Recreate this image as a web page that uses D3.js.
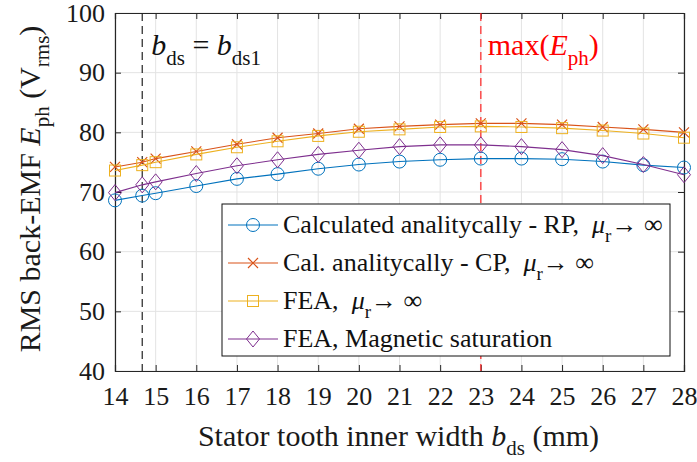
<!DOCTYPE html>
<html>
<head>
<meta charset="utf-8">
<script src="https://cdn.jsdelivr.net/npm/d3@7"></script>
<style>
  html, body { margin: 0; padding: 0; background: #fff; }
  svg { display: block; font-family: "Liberation Serif", "Times New Roman", serif; }
  text { white-space: pre; }
</style>
</head>
<body>
<svg id="chart" width="697" height="462"></svg>
<script>
// Stator tooth inner width b_ds (mm)
const widths = [14, 14.67, 15, 16, 17, 18, 19, 20, 21, 22, 23, 24, 25, 26, 27, 28];
// RMS back-EMF per phase (Vrms)
const calcRP   = [68.6, 69.4, 69.8, 71.0, 72.2, 73.0, 73.9, 74.6, 75.1, 75.4, 75.6, 75.6, 75.5, 75.1, 74.5, 74.1];
const calcCP   = [74.2, 75.0, 75.6, 76.8, 78.0, 79.1, 79.8, 80.6, 81.0, 81.3, 81.5, 81.5, 81.3, 80.9, 80.5, 80.0];
const feaInf   = [73.6, 74.5, 75.0, 76.3, 77.5, 78.5, 79.4, 80.1, 80.5, 80.9, 81.0, 80.9, 80.7, 80.3, 79.8, 79.1];
const feaSat   = [69.9, 71.2, 71.7, 73.1, 74.4, 75.4, 76.3, 77.0, 77.6, 77.9, 77.9, 77.6, 77.1, 76.1, 74.6, 72.9];
const xTicks = [14, 15, 16, 17, 18, 19, 20, 21, 22, 23, 24, 25, 26, 27, 28];
const yTicks = [40, 50, 60, 70, 80, 90, 100];
const bds1 = 14.67;   // reference tooth width
const bdsMax = 23;    // width giving the largest back-EMF

const series = [
  { key: "rp",  values: calcRP, color: "#0072BD", marker: "circle",  label: ["Calculated analitycally - RP,  ", true] },
  { key: "cp",  values: calcCP, color: "#D95319", marker: "cross",   label: ["Cal. analitycally - CP,  ", true] },
  { key: "fea", values: feaInf, color: "#EDB120", marker: "square",  label: ["FEA,  ", true] },
  { key: "sat", values: feaSat, color: "#7E2F8E", marker: "diamond", label: ["FEA, Magnetic saturation", false] }
];

const svg = d3.select("#chart");
const L = 115, R = 684, T = 13, B = 371;
const x = d3.scaleLinear().domain([14, 28]).range([L, R]);
const y = d3.scaleLinear().domain([40, 100]).range([B, T]);
const axisColor = "#262626";
const textColor = "#1a1a1a";

// grid
const grid = svg.append("g");
grid.selectAll("line.gx").data(xTicks).join("line")
  .attr("x1", d => x(d)).attr("x2", d => x(d)).attr("y1", T).attr("y2", B)
  .attr("stroke", "#e3e3e3").attr("stroke-width", 1);
grid.selectAll("line.gy").data(yTicks).join("line")
  .attr("y1", d => y(d)).attr("y2", d => y(d)).attr("x1", L).attr("x2", R)
  .attr("stroke", "#e3e3e3").attr("stroke-width", 1);

// axes with inward ticks on all four sides
const tickLen = 6;
const fontTick = 26;
const gB = svg.append("g").attr("transform", `translate(0,${B})`)
  .call(d3.axisBottom(x).tickValues(xTicks).tickSize(-tickLen).tickPadding(tickLen + 10).tickFormat(d3.format("d")));
const gT = svg.append("g").attr("transform", `translate(0,${T})`)
  .call(d3.axisTop(x).tickValues(xTicks).tickSize(-tickLen).tickFormat(""));
const gL = svg.append("g").attr("transform", `translate(${L},0)`)
  .call(d3.axisLeft(y).tickValues(yTicks).tickSize(-tickLen).tickPadding(tickLen + 4).tickFormat(d3.format("d")));
const gR = svg.append("g").attr("transform", `translate(${R},0)`)
  .call(d3.axisRight(y).tickValues(yTicks).tickSize(-tickLen).tickFormat(""));
[gB, gT, gL, gR].forEach(g => {
  g.select(".domain").attr("stroke", axisColor).attr("stroke-width", 1.2);
  g.selectAll(".tick line").attr("stroke", axisColor).attr("stroke-width", 1);
  g.selectAll("text").attr("fill", textColor).attr("font-size", fontTick)
    .attr("font-family", "Liberation Serif");
});

// reference lines
svg.append("line")
  .attr("x1", x(bds1)).attr("x2", x(bds1)).attr("y1", T).attr("y2", B)
  .attr("stroke", "#222").attr("stroke-width", 1.2).attr("stroke-dasharray", "8,5");
svg.append("line")
  .attr("x1", x(bdsMax)).attr("x2", x(bdsMax)).attr("y1", T).attr("y2", B)
  .attr("stroke", "#ff2020").attr("stroke-opacity", 0.75).attr("stroke-width", 1.6).attr("stroke-dasharray", "8,5");

// markers
function drawMarker(g, type, cx, cy, color) {
  if (type === "circle") {
    g.append("circle").attr("cx", cx).attr("cy", cy).attr("r", 6.5)
      .attr("fill", "none").attr("stroke", color).attr("stroke-width", 1);
  } else if (type === "square") {
    g.append("rect").attr("x", cx - 5.5).attr("y", cy - 5.5).attr("width", 11).attr("height", 11)
      .attr("fill", "none").attr("stroke", color).attr("stroke-width", 1);
  } else if (type === "diamond") {
    g.append("path").attr("d", `M${cx},${cy - 8}L${cx + 6.5},${cy}L${cx},${cy + 8}L${cx - 6.5},${cy}Z`)
      .attr("fill", "none").attr("stroke", color).attr("stroke-width", 1);
  } else if (type === "cross") {
    g.append("path").attr("d", `M${cx - 5},${cy - 5}L${cx + 5},${cy + 5}M${cx - 5},${cy + 5}L${cx + 5},${cy - 5}`)
      .attr("fill", "none").attr("stroke", color).attr("stroke-width", 1.2);
  }
}

const line = d3.line().x(d => x(d[0])).y(d => y(d[1]));
series.forEach(s => {
  const pts = widths.map((w, i) => [w, s.values[i]]);
  const g = svg.append("g");
  g.append("path").datum(pts).attr("d", line)
    .attr("fill", "none").attr("stroke", s.color).attr("stroke-width", 1.1);
  pts.forEach(p => drawMarker(g, s.marker, x(p[0]), y(p[1]), s.color));
});

// annotations
const ann1 = svg.append("text").attr("x", x(bds1) + 9).attr("y", 55)
  .attr("font-size", 30).attr("fill", "#111");
ann1.append("tspan").attr("font-style", "italic").text("b");
ann1.append("tspan").attr("font-size", 21).attr("dy", 10).text("ds");
ann1.append("tspan").attr("dy", -10).text(" = ");
ann1.append("tspan").attr("font-style", "italic").text("b");
ann1.append("tspan").attr("font-size", 21).attr("dy", 10).text("ds1");

const ann2 = svg.append("text").attr("x", x(bdsMax) + 7).attr("y", 55)
  .attr("font-size", 30).attr("fill", "#ff0000");
ann2.append("tspan").text("max(");
ann2.append("tspan").attr("font-style", "italic").text("E");
ann2.append("tspan").attr("font-size", 21).attr("dy", 10).text("ph");
ann2.append("tspan").attr("dy", -10).text(")");

// legend
const lg = svg.append("g");
const lx0 = 222, ly0 = 204, lw = 448, lh = 152;
lg.append("rect").attr("x", lx0).attr("y", ly0).attr("width", lw).attr("height", lh)
  .attr("fill", "#fff").attr("stroke", "#111").attr("stroke-width", 1);
const rowY = [225, 263, 301, 339];
series.forEach((s, i) => {
  const cy = rowY[i];
  lg.append("line").attr("x1", lx0 + 6).attr("x2", lx0 + 56).attr("y1", cy).attr("y2", cy)
    .attr("stroke", s.color).attr("stroke-width", 1.1);
  drawMarker(lg, s.marker, lx0 + 31, cy, s.color);
  const t = lg.append("text").attr("x", lx0 + 61).attr("y", cy + 8)
    .attr("font-size", 26).attr("fill", "#111");
  t.append("tspan").text(s.label[0]);
  if (s.label[1]) {
    t.append("tspan").attr("font-style", "italic").text("μ");
    t.append("tspan").attr("font-size", 19).attr("dy", 9).text("r");
    t.append("tspan").attr("dy", -9).text("→ ∞");
  }
});

// axis titles
const xt = svg.append("text").attr("x", (L + R) / 2 - 1).attr("y", 446)
  .attr("text-anchor", "middle").attr("font-size", 30).attr("fill", textColor);
xt.append("tspan").text("Stator tooth inner width ");
xt.append("tspan").attr("font-style", "italic").text("b");
xt.append("tspan").attr("font-size", 21).attr("dy", 9).text("ds");
xt.append("tspan").attr("dy", -9).text(" (mm)");

const yt = svg.append("text").attr("transform", `translate(40,189) rotate(-90)`)
  .attr("text-anchor", "middle").attr("font-size", 30).attr("fill", textColor);
yt.append("tspan").text("RMS back-EMF ");
yt.append("tspan").attr("font-style", "italic").text("E");
yt.append("tspan").attr("font-size", 21).attr("dy", 9).text("ph");
yt.append("tspan").attr("dy", -9).text(" (V");
yt.append("tspan").attr("font-size", 21).attr("dy", 9).text("rms");
yt.append("tspan").attr("dy", -9).text(")");
</script>
</body>
</html>
